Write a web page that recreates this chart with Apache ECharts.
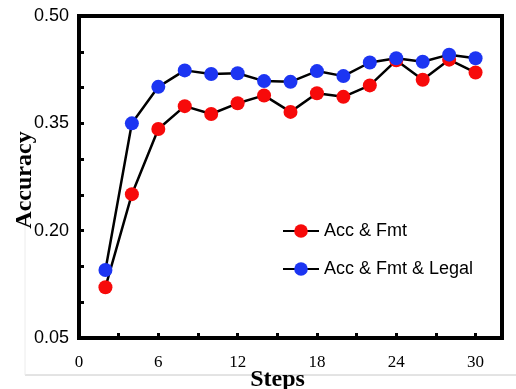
<!DOCTYPE html>
<html>
<head>
<meta charset="utf-8">
<script src="https://cdn.jsdelivr.net/npm/echarts@6/dist/echarts.min.js"></script>
<style>
  html, body { margin: 0; padding: 0; background: #fff; }
  #main { width: 516px; height: 389px; }
</style>
</head>
<body>
<div id="main"></div>
<script>
// steps on the x axis
const steps = [2, 4, 6, 8, 10, 12, 14, 16, 18, 20, 22, 24, 26, 28, 30];
// accuracy per step
const accFmt = [0.121, 0.251, 0.342, 0.374, 0.363, 0.378, 0.389, 0.366, 0.392, 0.387, 0.403, 0.438, 0.411, 0.439, 0.421];
const accFmtLegal = [0.145, 0.350, 0.401, 0.424, 0.419, 0.420, 0.409, 0.408, 0.423, 0.416, 0.435, 0.441, 0.436, 0.446, 0.441];
// tick positions / labels
const xTicks = [0, 3, 6, 9, 12, 15, 18, 21, 24, 27, 30];
const xLabels = [0, 6, 12, 18, 24, 30];
const yLabels = [0.05, 0.20, 0.35, 0.50];

const chart = echarts.init(document.getElementById('main'));

const pair = ys => steps.map((x, i) => [x, ys[i]]);

const option = {
    animation: false,
    backgroundColor: '#fff',
    grid: {
        left: 79, right: 14, top: 16, bottom: 51,
        outerBoundsMode: 'none',
        containLabel: false,
        show: true,
        borderColor: '#000',
        borderWidth: 4
    },
    legend: {
        orient: 'vertical',
        left: 282,
        top: 222,
        padding: 0,
        itemWidth: 36,
        itemHeight: 17,
        itemGap: 20,
        textStyle: {
            fontFamily: 'Liberation Sans',
            fontSize: 18,
            lineHeight: 18,
            color: '#000'
        },
        data: ['Acc & Fmt', 'Acc & Fmt & Legal']
    },
    xAxis: {
        type: 'value',
        min: 0,
        max: 32,
        name: 'Steps',
        nameLocation: 'middle',
        nameGap: 30,
        nameMoveOverlap: false,
        nameTextStyle: {
            fontFamily: 'Liberation Serif',
            fontWeight: 'bold',
            fontSize: 24,
            color: '#000',
            padding: [0, 26, 0, 0]
        },
        axisLine: { show: true, lineStyle: { color: '#000', width: 4 } },
        axisTick: {
            show: true, inside: true, length: 5,
            customValues: xTicks,
            lineStyle: { color: '#000', width: 3 }
        },
        axisLabel: {
            customValues: xLabels,
            margin: 16,
            fontFamily: 'Liberation Serif',
            fontSize: 17,
            color: '#000'
        },
        splitLine: { show: false }
    },
    yAxis: {
        type: 'value',
        min: 0.05,
        max: 0.50,
        interval: 0.05,
        name: 'Accuracy',
        nameLocation: 'middle',
        nameGap: 42,
        nameRotate: 90,
        nameMoveOverlap: false,
        nameTextStyle: {
            fontFamily: 'Liberation Serif',
            fontWeight: 'bold',
            fontSize: 24,
            color: '#000',
            padding: [0, 6, 0, 0]
        },
        axisLine: { show: true, lineStyle: { color: '#000', width: 4 } },
        axisTick: {
            show: true, inside: true, length: 5,
            lineStyle: { color: '#000', width: 3 }
        },
        axisLabel: {
            customValues: yLabels,
            margin: 10,
            fontFamily: 'Liberation Sans',
            fontSize: 18,
            color: '#000',
            formatter: v => v.toFixed(2)
        },
        splitLine: { show: false }
    },
    series: [
        {
            name: 'Acc & Fmt',
            type: 'line',
            data: pair(accFmt),
            symbol: 'circle',
            symbolSize: 14,
            itemStyle: { color: '#f70a0a' },
            lineStyle: { color: '#000', width: 2.5 }
        },
        {
            name: 'Acc & Fmt & Legal',
            type: 'line',
            data: pair(accFmtLegal),
            symbol: 'circle',
            symbolSize: 14,
            itemStyle: { color: '#1c35f2' },
            lineStyle: { color: '#000', width: 2.5 }
        }
    ],
    graphic: [
        {
            type: 'line',
            shape: { x1: 25, y1: 375, x2: 516, y2: 375 },
            style: { stroke: '#c8c8c8', lineWidth: 1 }
        },
        {
            type: 'line',
            shape: { x1: 25, y1: 200, x2: 25, y2: 375 },
            style: { stroke: '#ececec', lineWidth: 1 }
        }
    ]
};

chart.setOption(option);
</script>
</body>
</html>
